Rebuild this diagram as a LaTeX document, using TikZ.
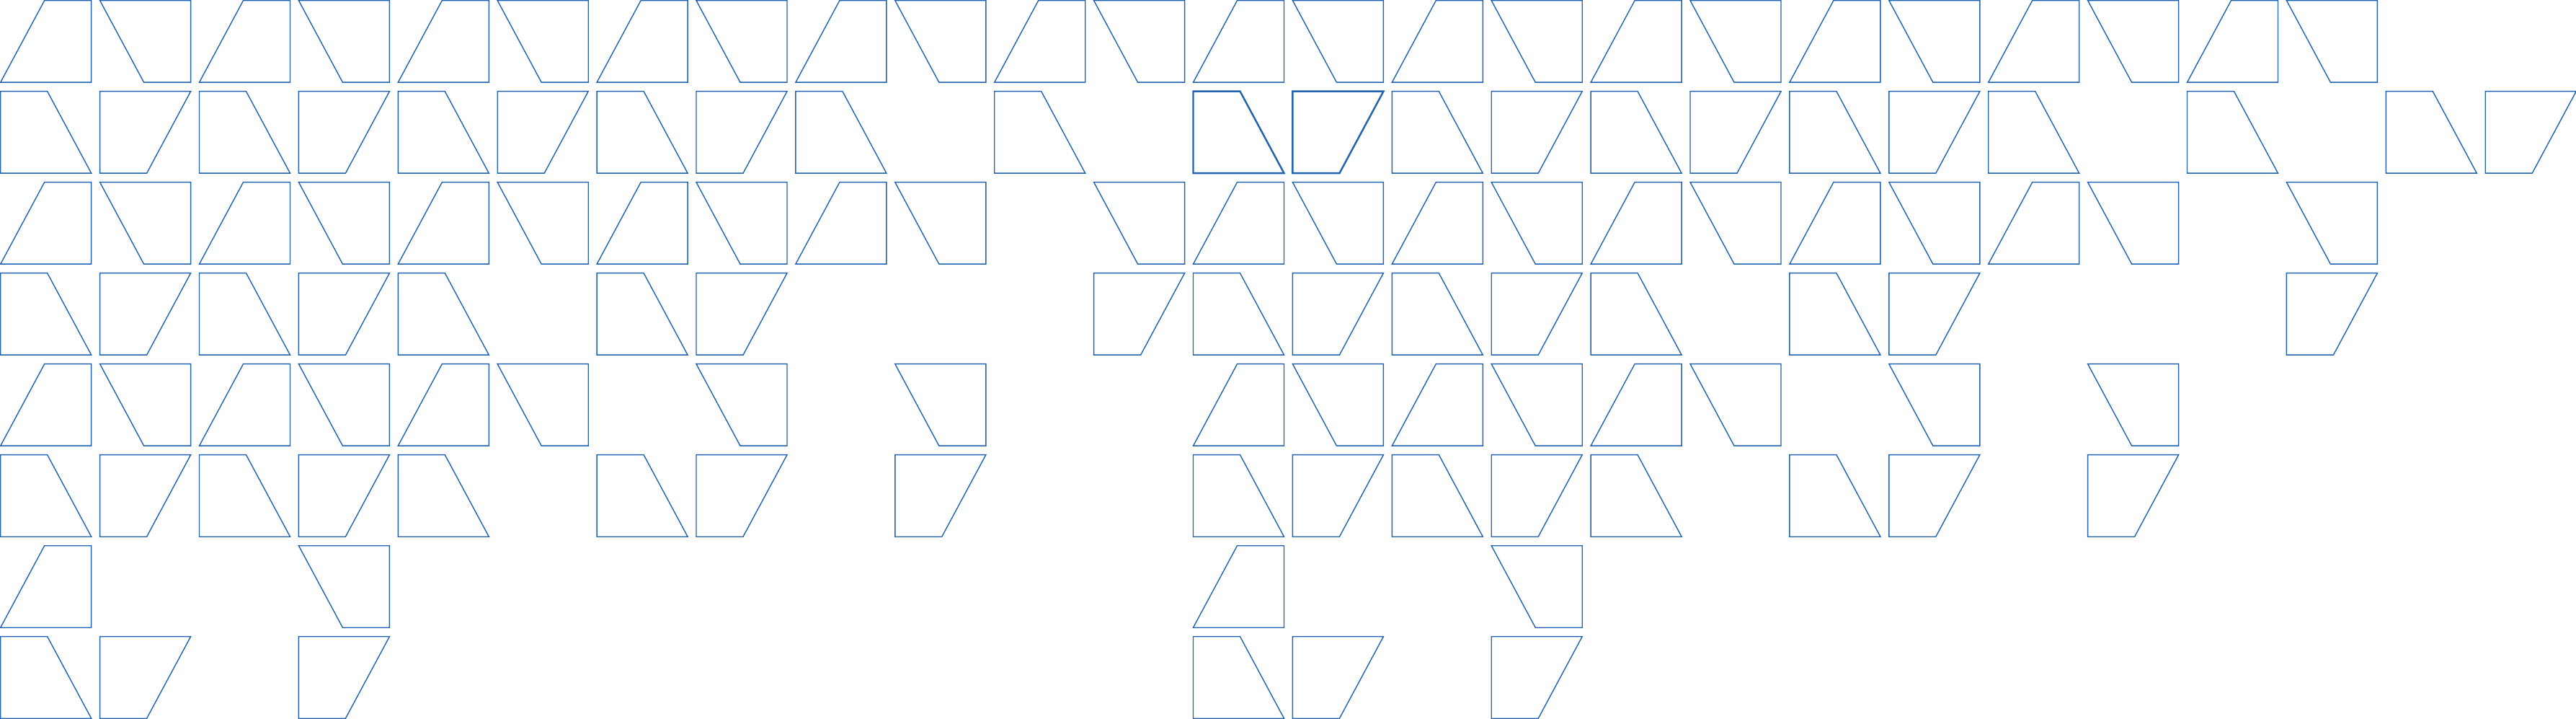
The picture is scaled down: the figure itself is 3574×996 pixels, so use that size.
\documentclass[tikz,border=0pt]{standalone}
\usepackage{tikz}
\definecolor{tileblue}{RGB}{34,100,178}
\tikzstyle{tileline}=[draw=tileblue, line width=0.4pt, line join=miter]
\tikzstyle{tilebold}=[tileline, line width=0.7pt]
% one tile: column, row; the cut corner follows the parity of both
\newcommand*{\tile}[3][tileline]{%
	\pgfmathsetmacro\xl{#2*137.9+0.7}
	\pgfmathsetmacro\xr{\xl+126}
	\pgfmathsetmacro\yt{995.3-#3*126}
	\pgfmathsetmacro\yb{\yt-113.5}
	\pgfmathtruncatemacro\kind{mod(#3,2)*2+mod(#2,2)}
	\ifcase\kind
		\draw[#1] (\xl,\yb) -- (\xl+61,\yt) -- (\xr,\yt) -- (\xr,\yb) -- cycle;
	\or
		\draw[#1] (\xl,\yt) -- (\xr,\yt) -- (\xr,\yb) -- (\xl+61,\yb) -- cycle;
	\or
		\draw[#1] (\xl,\yt) -- (\xr-61,\yt) -- (\xr,\yb) -- (\xl,\yb) -- cycle;
	\or
		\draw[#1] (\xl,\yt) -- (\xr,\yt) -- (\xr-61,\yb) -- (\xl,\yb) -- cycle;
	\fi
}

\begin{document}
\begin{tikzpicture}[x=0.01cm, y=0.01cm]
	\useasboundingbox (0,0) rectangle (3574,996);

	% Columns that hold a tile, one list per row (top row first)
	\foreach \cols [count=\row from 0] in {%
		{0,1,2,3,4,5,6,7,8,9,10,11,12,13,14,15,16,17,18,19,20,21,22,23},%
		{0,1,2,3,4,5,6,7,8,10,14,15,16,17,18,19,20,22,24,25},%
		{0,1,2,3,4,5,6,7,8,9,11,12,13,14,15,16,17,18,19,20,21,23},%
		{0,1,2,3,4,6,7,11,12,13,14,15,16,18,19,23},%
		{0,1,2,3,4,5,7,9,12,13,14,15,16,17,19,21},%
		{0,1,2,3,4,6,7,9,12,13,14,15,16,18,19,21},%
		{0,3,12,15},%
		{0,1,3,12,13,15}%
	}{
		\foreach \col in \cols {
			\tile{\col}{\row}
		}
	}

	% The two darker tiles in the second row
	\tile[tilebold]{12}{1}
	\tile[tilebold]{13}{1}
\end{tikzpicture}
\end{document}
